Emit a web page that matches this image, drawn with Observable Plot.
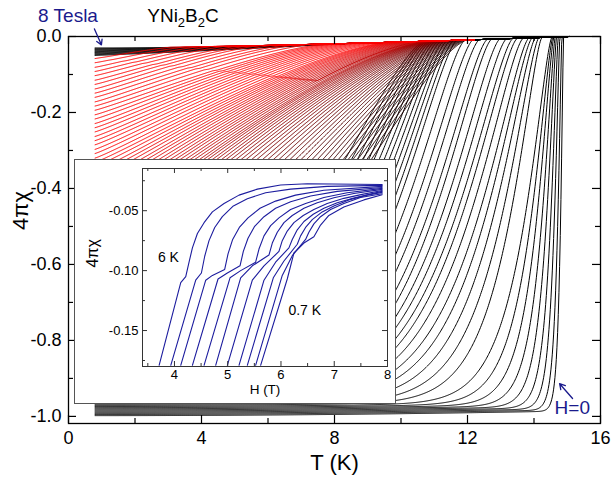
<!DOCTYPE html>
<html><head><meta charset="utf-8">
<script src="https://cdn.jsdelivr.net/npm/d3@7"></script>
<script src="https://cdn.jsdelivr.net/npm/@observablehq/plot@0.6"></script>
<style>
body{margin:0;background:#fff;font-family:"Liberation Sans",Arial,sans-serif;}
#wrap{position:relative;width:611px;height:477px;overflow:hidden;}
#inset{position:absolute;left:74px;top:159px;width:320px;height:243px;border:1px solid #555;background:#fff;}
#inset svg,#wrap>svg{display:block;}
</style></head><body><div id="wrap"><div id="inset"></div></div>
<script>
// ================= main panel: 4πχ(T) curves =================
// black family (low fields, sharp transitions on the right)
const blackFieldT = [0,0.05,0.1,0.15,0.2,0.25,0.3,0.35,0.4,0.45,0.5,0.55,0.6,0.65,0.7,0.75,0.8,0.85,0.9,0.95,1,1.05,1.1,1.15,1.2,1.25,1.3,1.35,1.4,1.45,1.5,1.55,1.6,1.65,1.7,1.75,1.8,1.85];
const blackChiLow = [-0.998,-0.995,-0.992,-0.989,-0.986,-0.983,-0.980,-0.977,-0.974,-0.971,
-0.968,-0.965,-0.962,-0.959,-0.956,-0.953,-0.950,-0.947,-0.944,-0.941,
-0.938,-0.935,-0.932,-0.929,-0.926,-0.923,-0.920,-0.917,-0.914,-0.911,
-0.908,-0.905,-0.902,-0.899,-0.896,-0.893,-0.890,-0.887];
const blackTc = [14.89,14.84,14.78,14.73,14.68,14.64,14.60,14.57,14.54,14.24,
14.15,14.05,13.95,13.85,13.68,13.50,13.37,13.18,12.98,12.73,
12.60,12.36,12.17,11.93,11.69,11.59,11.49,11.40,11.31,11.22,
11.14,11.06,10.99,10.92,10.86,10.80,10.76,10.72];
// red family (intermediate fields, broad transitions upper left)
const redFieldT = [6.90,6.84,6.77,6.71,6.64,6.58,6.51,6.45,6.38,6.32,6.25,6.19,6.12,6.06,5.99,5.93,5.86,5.80,5.73,5.67,5.60,5.54,5.47,5.41,5.34,5.28,5.21,5.15,5.08,5.02,4.95,4.89,4.82,4.76,4.69,4.63,4.56,4.50,4.43,4.37,4.30,4.24,4.17,4.11,4.04,3.98,3.91,3.85,3.78,3.72,3.65,3.59,3.52,3.46,3.39,3.33,3.26,3.20,3.13,3.07,3.00,2.94,2.87,2.81,2.74,2.68,2.61,2.55,2.48,2.42,2.35,2.29,2.22,2.16,2.09];
const redChiLow = [-0.058,-0.069,-0.081,-0.092,-0.103,-0.115,-0.126,-0.138,-0.149,-0.160,
-0.172,-0.183,-0.194,-0.206,-0.217,-0.229,-0.240,-0.251,-0.263,-0.274,
-0.285,-0.297,-0.308,-0.320,-0.331,-0.342,-0.354,-0.365,-0.376,-0.388,
-0.399,-0.410,-0.422,-0.433,-0.445,-0.456,-0.467,-0.479,-0.490,-0.501,
-0.513,-0.524,-0.535,-0.547,-0.558,-0.570,-0.581,-0.592,-0.604,-0.615,
-0.626,-0.638,-0.649,-0.661,-0.672,-0.683,-0.695,-0.706,-0.717,-0.729,
-0.740,-0.751,-0.763,-0.774,-0.786,-0.797,-0.808,-0.820,-0.831,-0.842,
-0.854,-0.865,-0.876,-0.888,-0.899];
const redTc = [3.3,3.7,4.1,4.5,4.9,5.3,5.6,5.9,6.3,6.7,
7.0,7.4,7.8,7.95,8.1,8.25,8.4,8.55,8.7,8.85,
9.0,9.15,9.3,9.45,9.6,9.68,9.75,9.83,9.90,9.98,
10.05,10.13,10.20,10.28,10.35,10.43,10.50,10.58,10.65,10.73,
10.80,10.84,10.87,10.91,10.94,10.98,11.01,11.05,11.08,11.12,
11.15,11.19,11.22,11.26,11.29,11.33,11.36,11.40,11.43,11.47,
11.50,11.54,11.57,11.61,11.64,11.68,11.71,11.75,11.78,11.82,
11.85,11.89,11.92,11.96,12.00];
// highest fields: thin black band just below zero
const bandFieldT = [7.0,7.1,7.2,7.3,7.4,7.5,7.6,7.7,7.8,7.9,8.0];
const bandChiLow = [-0.050,-0.048,-0.046,-0.044,-0.042,-0.040,-0.038,-0.036,-0.034,-0.032,-0.030];
const bandTc = [9.0,8.6,8.2,7.8,7.4,7.0,6.6,6.2,5.8,5.4,5.0];
// locus of the small steps seen on the red curves (two end points, T in K and 4πχ)
const kinkLocusT = [0.8, 7.4], kinkLocusChi = [-0.059, -0.118];

const normalStateLowT = -0.03;   // normal-state 4πχ at 0.8 K (rises to 0 at 15.05 K)
const tStart = 0.8, tEndAll = 15.05, tEndRed = 12.2;

const tickXMajor = [0,4,8,12,16], tickXMinor = [2,6,10,14];
const tickYMajor = [0,-0.2,-0.4,-0.6,-0.8,-1.0], tickYMinor = [-0.1,-0.3,-0.5,-0.7,-0.9];

// ================= inset: 4πχ(H) at fixed temperatures =================
const insetTemps = ["6 K","c2","c3","c4","c5","c6","c7","c8","c9","c10","0.7 K"];
const insetCurves = [
[[3.712,-0.179],[4.118,-0.110],[4.212,-0.105],[4.274,-0.093],[4.337,-0.081],[4.431,-0.069],[4.556,-0.060],[4.712,-0.051],[4.931,-0.044],[5.212,-0.037],[5.556,-0.032],[5.993,-0.0286],[6.493,-0.0275],[7.899,-0.0281]],
[[3.931,-0.179],[4.399,-0.108],[4.506,-0.102],[4.568,-0.088],[4.649,-0.075],[4.756,-0.064],[4.899,-0.055],[5.106,-0.046],[5.368,-0.040],[5.712,-0.035],[6.181,-0.032],[6.868,-0.0297],[7.899,-0.0289]],
[[4.118,-0.179],[4.587,-0.108],[4.712,-0.104],[4.943,-0.099],[5.006,-0.086],[5.093,-0.074],[5.218,-0.064],[5.381,-0.056],[5.606,-0.048],[5.899,-0.042],[6.274,-0.037],[6.806,-0.033],[7.899,-0.0297]],
[[4.337,-0.179],[4.818,-0.107],[4.993,-0.102],[5.231,-0.096],[5.293,-0.084],[5.381,-0.073],[5.506,-0.063],[5.681,-0.055],[5.899,-0.048],[6.181,-0.0425],[6.556,-0.0378],[7.056,-0.0339],[7.899,-0.0306]],
[[4.556,-0.179],[5.043,-0.106],[5.243,-0.100],[5.524,-0.093],[5.587,-0.082],[5.681,-0.071],[5.806,-0.0625],[5.962,-0.056],[6.181,-0.049],[6.462,-0.044],[6.806,-0.039],[7.243,-0.035],[7.899,-0.0314]],
[[4.774,-0.179],[5.243,-0.106],[5.462,-0.096],[5.774,-0.087],[5.837,-0.077],[5.931,-0.068],[6.056,-0.060],[6.212,-0.054],[6.431,-0.048],[6.681,-0.0433],[6.993,-0.0392],[7.368,-0.0356],[7.899,-0.0322]],
[[4.993,-0.179],[5.462,-0.108],[5.681,-0.096],[5.962,-0.084],[6.024,-0.075],[6.118,-0.067],[6.243,-0.060],[6.418,-0.054],[6.618,-0.049],[6.868,-0.044],[7.181,-0.0397],[7.524,-0.0364],[7.899,-0.0331]],
[[5.212,-0.179],[5.681,-0.108],[5.899,-0.093],[6.149,-0.081],[6.212,-0.074],[6.306,-0.066],[6.431,-0.059],[6.606,-0.053],[6.806,-0.048],[7.056,-0.0433],[7.368,-0.0394],[7.681,-0.0361],[7.899,-0.0339]],
[[5.368,-0.179],[5.856,-0.106],[6.056,-0.092],[6.306,-0.078],[6.368,-0.071],[6.462,-0.064],[6.587,-0.0575],[6.774,-0.051],[6.993,-0.046],[7.274,-0.041],[7.618,-0.037],[7.899,-0.0347]],
[[5.524,-0.179],[6.024,-0.104],[6.212,-0.0875],[6.462,-0.074],[6.524,-0.068],[6.618,-0.061],[6.743,-0.055],[6.931,-0.049],[7.181,-0.044],[7.493,-0.039],[7.899,-0.0358]],
[[5.618,-0.179],[6.118,-0.107],[6.243,-0.0853],[6.431,-0.077],[6.618,-0.0717],[6.743,-0.062],[6.899,-0.054],[7.181,-0.047],[7.556,-0.041],[7.899,-0.0367]]
];
const insetLabels = [{text:"6 K", H:3.69, chi:-0.0925},{text:"0.7 K", H:6.14, chi:-0.1367}];
const insetXMajor=[4,5,6,7,8], insetXMinor=[3.5,4.5,5.5,6.5,7.5];
const insetYMajor=[-0.05,-0.10,-0.15], insetYMinor=[-0.025,-0.075,-0.125,-0.175];

// annotation anchors (data units)
const arrow8T = [{x1:0.78,y1:0.020,x2:0.99,y2:-0.022}];
const arrowH0 = [{x1:15.16,y1:-0.953,x2:14.77,y2:-0.914}];
const labelH0 = [{text:"H=0", T:14.62, chi:-0.993}];

// ================= build curves =================
function normalState(T){ return normalStateLowT*(1-Math.pow(Math.max(0,(T-tStart)/(tEndAll-tStart)),1.5)); }
function blackSharpness(i){ return i < 20 ? 6 + 144*Math.exp(-i/3) : 6 - 3.5*(i-20)/17; }
function kinkLocus(T){ return kinkLocusChi[0] + (kinkLocusChi[1]-kinkLocusChi[0])*(T-kinkLocusT[0])/(kinkLocusT[1]-kinkLocusT[0]); }
const curves = [];
bandFieldT.forEach((H,i) => curves.push({id:"band"+i, H, c0:bandChiLow[i], tc:bandTc[i], p:1, tEnd:tEndAll, color:"#000000", kink:false}));
blackFieldT.forEach((H,i) => curves.push({id:"black"+i, H, c0:blackChiLow[i], tc:blackTc[i], p:blackSharpness(i), tEnd:tEndAll, color:"#000000", kink:false}));
for (let i = redFieldT.length-1; i >= 0; i--) {
  const t = Math.max(0, Math.min(1, (i-24)/48));
  curves.push({id:"red"+i, H:redFieldT[i], c0:redChiLow[i], tc:redTc[i],
    p: i <= 40 ? 1.1 : 1.1 + 1.2*Math.pow((i-40)/34, 2), tEnd:tEndRed,
    color: d3.interpolateRgb("#ff0000", "#200000")(t), kink:true});
}
const mainRows = [];
for (const c of curves) {
  const f = T => {
    const u = Math.min(1, Math.max(0, (T - tStart)/(c.tc - tStart)));
    const S = u >= 1 ? 0 : Math.pow(1 - Math.pow(u, c.p), 1.5);
    return normalState(T)*(1-S) + c.c0*(1-0.012*u*u)*S;
  };
  const n = Math.round((c.tEnd - tStart)/0.02);
  // small step where the curve meets the kink locus
  let Tk = null; const step = 0.14;
  if (c.kink) {
    for (let j = 1; j <= n; j++) {
      const T = tStart + j*(c.tEnd - tStart)/n;
      if (T > kinkLocusT[1]) break;
      if (f(T) >= kinkLocus(T)) { Tk = T; break; }
    }
  }
  for (let j = 0; j <= n; j++) {
    const T = tStart + j*(c.tEnd - tStart)/n;
    let chi;
    if (Tk === null || T < Tk) chi = f(T);
    else if (T < Tk + step) chi = f(Tk) + 0.002*(T-Tk)/step;
    else chi = Math.min(normalState(T), f(T - step) + 0.002);
    mainRows.push({id:c.id, H:c.H, T, chi, color:c.color});
  }
}

const yLo = -1.0187, yHi = 0;
const pxY = 1/380, pxX = 1/33.25;
const font = "'Liberation Sans', Arial, Helvetica, sans-serif";
const navy = "#1a1a8c";

const main = Plot.plot({
  width: 611, height: 477,
  marginLeft: 68, marginRight: 11, marginTop: 36, marginBottom: 54,
  x: {domain: [0,16]}, y: {domain: [yLo, yHi]},
  color: {type: "identity"},
  style: {fontFamily: font, fontSize: "18px", color: "#000", background: "transparent", overflow: "visible"},
  marks: [
    Plot.line(mainRows, {x: "T", y: "chi", z: "id", stroke: "color", strokeWidth: 1}),
    Plot.frame({stroke: "#000", strokeWidth: 1.3}),
    Plot.ruleX(tickXMajor, {x: d=>d, y1: yLo, y2: yLo + 8*pxY, strokeWidth: 1.2}),
    Plot.ruleX(tickXMinor, {x: d=>d, y1: yLo, y2: yLo + 5*pxY, strokeWidth: 1.2}),
    Plot.ruleX(tickXMajor, {x: d=>d, y1: yHi, y2: yHi - 8*pxY, strokeWidth: 1.2}),
    Plot.ruleX(tickXMinor, {x: d=>d, y1: yHi, y2: yHi - 5*pxY, strokeWidth: 1.2}),
    Plot.ruleY(tickYMajor, {y: d=>d, x1: 0, x2: 8*pxX, strokeWidth: 1.2}),
    Plot.ruleY(tickYMinor, {y: d=>d, x1: 0, x2: 5*pxX, strokeWidth: 1.2}),
    Plot.ruleY(tickYMajor, {y: d=>d, x1: 16, x2: 16 - 8*pxX, strokeWidth: 1.2}),
    Plot.ruleY(tickYMinor, {y: d=>d, x1: 16, x2: 16 - 5*pxX, strokeWidth: 1.2}),
    Plot.axisX({ticks: tickXMajor, tickSize: 0, tickPadding: 8, label: null, tickFormat: d => String(d)}),
    Plot.axisY({ticks: tickYMajor, tickSize: 0, tickPadding: 7, label: null, tickFormat: d => (d === 0 ? 0 : d).toFixed(1)}),
    Plot.text(["T (K)"], {frameAnchor: "bottom", dy: 46, fontSize: 22}),
    Plot.text(["4πχ"], {frameAnchor: "left", dx: -48, rotate: -90, fontSize: 22}),
    Plot.arrow(arrow8T, {x1: "x1", y1: "y1", x2: "x2", y2: "y2", stroke: navy, strokeWidth: 1.3, headLength: 7, clip: false}),
    Plot.arrow(arrowH0, {x1: "x1", y1: "y1", x2: "x2", y2: "y2", stroke: navy, strokeWidth: 1.3, headLength: 7}),
    Plot.text(labelH0, {x: "T", y: "chi", text: "text", textAnchor: "start", lineAnchor: "bottom", fill: navy, fontSize: 19})
  ]
});
document.getElementById("wrap").prepend(main);

const svg = d3.select(main);
const ttl = svg.append("text").attr("x", 183).attr("y", 22).attr("font-size", 19).attr("font-family", font).attr("fill", "#000");
ttl.append("tspan").text("YNi");
ttl.append("tspan").attr("font-size", 13).attr("dy", 5).text("2");
ttl.append("tspan").attr("dy", -5).text("B");
ttl.append("tspan").attr("font-size", 13).attr("dy", 5).text("2");
ttl.append("tspan").attr("dy", -5).text("C");
svg.append("text").attr("x", 68).attr("y", 22).attr("font-size", 19).attr("font-family", font).attr("fill", navy).text("8 Tesla");

// ================= inset =================
const insetRows = insetCurves.flatMap((pts, i) => pts.map(([H, chi]) => ({curve: insetTemps[i], H, chi})));
const iyLo = -0.18, iyHi = -0.0148, ixLo = 3.4, ixHi = 8;
const ipy = 1/1200, ipx = 1/53.3;
const inset = Plot.plot({
  width: 320, height: 243,
  marginLeft: 67, marginRight: 8, marginTop: 8, marginBottom: 37,
  x: {domain: [ixLo, ixHi]}, y: {domain: [iyLo, iyHi]},
  style: {fontFamily: font, fontSize: "13px", color: "#000", background: "#fff"},
  marks: [
    Plot.line(insetRows, {x: "H", y: "chi", z: "curve", stroke: "#1c1c9e", strokeWidth: 1.1}),
    Plot.frame({stroke: "#333", strokeWidth: 1}),
    Plot.ruleX(insetXMajor, {x: d=>d, y1: iyLo, y2: iyLo + 5*ipy, stroke: "#333"}),
    Plot.ruleX(insetXMinor, {x: d=>d, y1: iyLo, y2: iyLo + 3*ipy, stroke: "#333"}),
    Plot.ruleX(insetXMajor, {x: d=>d, y1: iyHi, y2: iyHi - 5*ipy, stroke: "#333"}),
    Plot.ruleX(insetXMinor, {x: d=>d, y1: iyHi, y2: iyHi - 3*ipy, stroke: "#333"}),
    Plot.ruleY(insetYMajor, {y: d=>d, x1: ixLo, x2: ixLo + 5*ipx, stroke: "#333"}),
    Plot.ruleY(insetYMinor, {y: d=>d, x1: ixLo, x2: ixLo + 3*ipx, stroke: "#333"}),
    Plot.ruleY(insetYMajor, {y: d=>d, x1: ixHi, x2: ixHi - 5*ipx, stroke: "#333"}),
    Plot.ruleY(insetYMinor, {y: d=>d, x1: ixHi, x2: ixHi - 3*ipx, stroke: "#333"}),
    Plot.axisX({ticks: insetXMajor, tickSize: 0, tickPadding: 3, label: null, tickFormat: d => String(d)}),
    Plot.axisY({ticks: insetYMajor, tickSize: 0, tickPadding: 4, label: null, tickFormat: d => d.toFixed(2)}),
    Plot.text(["H (T)"], {frameAnchor: "bottom", dy: 27, fontSize: 13.5}),
    Plot.text(["4πχ"], {frameAnchor: "left", dx: -50, rotate: -90, fontSize: 16}),
    Plot.text(insetLabels, {x: "H", y: "chi", text: "text", textAnchor: "start", lineAnchor: "bottom", fontSize: 14})
  ]
});
document.getElementById("inset").append(inset);
</script></body></html>
